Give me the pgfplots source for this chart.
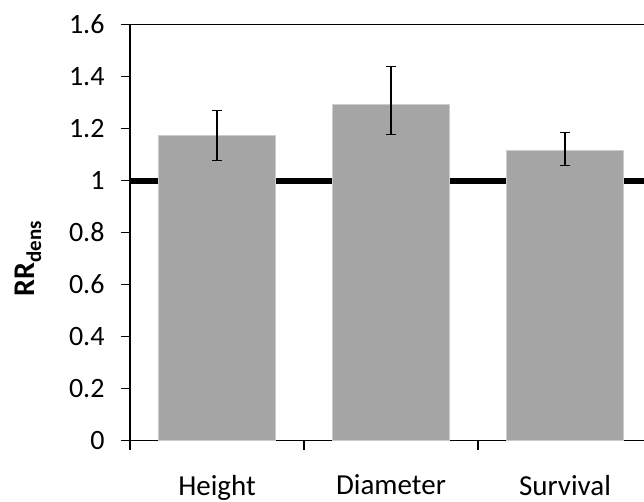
\documentclass[border=0pt]{standalone}
\usepackage{fontspec}
\setmainfont{Carlito}
\usepackage{pgfplots}
\pgfplotsset{compat=1.18}
\definecolor{barfill}{RGB}{165,165,165}
\definecolor{baredge}{RGB}{205,205,205}
\begin{document}
\begin{tikzpicture}
\begin{axis}[
  scale only axis,
  width=522pt, height=416pt,
  xmin=0.5, xmax=3.5,
  ymin=0, ymax=1.6,
  ytick={0,0.2,0.4,0.6,0.8,1,1.2,1.4,1.6},
  xtick={0.5,1.5,2.5},
  xticklabels={},
  extra x ticks={1,2,3},
  extra x tick labels={Height,Diameter,Survival},
  extra x tick style={tick style={draw=none}},
  tick pos=left,
  tick align=outside,
  major tick length=9pt,
  tick style={line width=1.3pt, black},
  axis line style={line width=1.3pt, black},
  /pgf/number format/assume math mode=true,
  ticklabel style={font=\fontsize{28}{30}\selectfont},
  yticklabel style={xshift=-13pt},
  xticklabel style={yshift=-22pt, font=\fontsize{29}{30}\selectfont},
  every axis y label/.style={at={(axis description cs:-0.182,0.437)}, rotate=90, anchor=base},
  ylabel={\fontsize{30}{32}\selectfont\bfseries RR\textsubscript{dens}},
  clip=false,
]
\addplot[black, line width=6pt, forget plot] coordinates {(0.5,1) (3.5,1)};
\addplot[ybar, bar width=117.5pt, fill=barfill, draw=baredge, line width=1pt,
  error bars/.cd, y dir=both, y explicit,
  error bar style={line width=1.3pt, black},
  error mark options={rotate=90, mark size=5pt, line width=1.3pt, black}]
  table[x=x, y=y, y error plus=ep, y error minus=em] {
    x y     ep    em
    1 1.172 0.096 0.094
    2 1.293 0.145 0.117
    3 1.116 0.068 0.059
  };
\end{axis}
\pgfresetboundingbox
\useasboundingbox (-130pt,-60.5pt) rectangle (514pt,440.5pt);
\end{tikzpicture}
\end{document}
